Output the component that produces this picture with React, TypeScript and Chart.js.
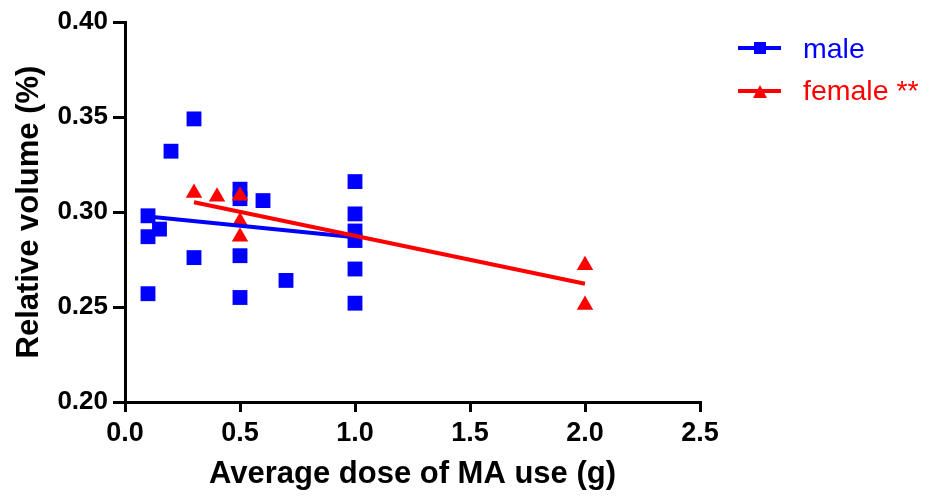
import React, { useEffect, useRef } from "react";
import { Chart, registerables } from "chart.js";

Chart.register(...registerables);

// ---- data ----
const maleX = [0.1, 0.1, 0.1, 0.15, 0.2, 0.3, 0.3, 0.5, 0.5, 0.5, 0.5, 0.6, 0.7, 1.0, 1.0, 1.0, 1.0, 1.0, 1.0];
const maleY = [0.298, 0.287, 0.257, 0.291, 0.332, 0.349, 0.276, 0.312, 0.307, 0.277, 0.255, 0.306, 0.264, 0.316, 0.299, 0.290, 0.285, 0.270, 0.252];
const femaleX = [0.3, 0.4, 0.5, 0.5, 0.5, 2.0, 2.0];
const femaleY = [0.310, 0.308, 0.3085, 0.295, 0.287, 0.272, 0.251];
const maleFitX = [0.1, 1.0];
const maleFitY = [0.2976, 0.2867];
const femaleFitX = [0.3, 2.0];
const femaleFitY = [0.3051, 0.2622];
const xTicks = [0, 0.5, 1.0, 1.5, 2.0, 2.5];
const yTicks = [0.2, 0.25, 0.3, 0.35, 0.4];
const seriesLabels = ["male", "female **"];
const xTitle = "Average dose of MA use (g)";
const yTitle = "Relative volume (%)";

const BLUE = "#0000ff";
const RED = "#ff0000";
const FONT = "'Liberation Sans', Arial, Helvetica, sans-serif";

const toPoints = (xs: number[], ys: number[]) => xs.map((x, i) => ({ x, y: ys[i] }));

const legendPlugin = {
  id: "prismLegend",
  afterDraw(chart: any) {
    const ctx = chart.ctx as CanvasRenderingContext2D;
    const rows = [
      { label: seriesLabels[0], color: BLUE, shape: "rect", y: 48, base: 58 },
      { label: seriesLabels[1], color: RED, shape: "tri", y: 91, base: 100 },
    ];
    ctx.save();
    rows.forEach((r) => {
      ctx.strokeStyle = r.color;
      ctx.fillStyle = r.color;
      ctx.lineWidth = 4;
      ctx.beginPath();
      ctx.moveTo(738, r.y);
      ctx.lineTo(781, r.y);
      ctx.stroke();
      if (r.shape === "rect") {
        ctx.fillRect(754, r.y - 6, 12, 12);
      } else {
        ctx.beginPath();
        ctx.moveTo(760, r.y - 6);
        ctx.lineTo(767, r.y + 7);
        ctx.lineTo(753, r.y + 7);
        ctx.closePath();
        ctx.fill();
      }
      ctx.font = `28.5px ${FONT}`;
      ctx.textBaseline = "alphabetic";
      ctx.textAlign = "left";
      ctx.fillText(r.label, 803, r.base);
    });
    ctx.restore();
  },
};

export default function App() {
  const ref = useRef<HTMLCanvasElement>(null);
  useEffect(() => {
    document.body.style.margin = "0";
    const canvas = ref.current;
    if (!canvas) return;
    const chart = new Chart(canvas, {
      type: "scatter",
      data: {
        datasets: [
          {
            label: seriesLabels[1] + " fit",
            data: toPoints(femaleFitX, femaleFitY),
            showLine: true,
            borderColor: RED,
            borderWidth: 4,
            pointRadius: 0,
            order: 0,
          },
          {
            label: seriesLabels[0] + " fit",
            data: toPoints(maleFitX, maleFitY),
            showLine: true,
            borderColor: BLUE,
            borderWidth: 4,
            pointRadius: 0,
            order: 1,
          },
          {
            label: seriesLabels[1],
            data: toPoints(femaleX, femaleY),
            pointStyle: "triangle",
            pointRadius: 9.5,
            backgroundColor: RED,
            borderColor: RED,
            borderWidth: 0,
            order: 2,
          },
          {
            label: seriesLabels[0],
            data: toPoints(maleX, maleY),
            pointStyle: "rect",
            pointRadius: 10.5,
            backgroundColor: BLUE,
            borderColor: BLUE,
            borderWidth: 0,
            order: 3,
          },
        ],
      },
      options: {
        responsive: false,
        animation: false,
        layout: { padding: { left: 0, right: 234, top: 22, bottom: 0 } },
        plugins: { legend: { display: false }, tooltip: { enabled: false } },
        scales: {
          x: {
            type: "linear",
            min: 0,
            max: 2.5,
            afterBuildTicks: (s: any) => {
              s.ticks = xTicks.map((v) => ({ value: v }));
            },
            afterFit: (s: any) => {
              s.height = 94;
            },
            border: { display: true, color: "#000", width: 3 },
            grid: { display: true, drawOnChartArea: false, drawTicks: true, tickLength: 10, color: "#000", lineWidth: 3 },
            ticks: {
              color: "#000",
              padding: 5,
              maxRotation: 0,
              font: { family: FONT, size: 27, weight: "bold" },
              callback: (v: any) => Number(v).toFixed(1),
            },
            title: {
              display: true,
              text: xTitle,
              color: "#000",
              font: { family: FONT, size: 31, weight: "bold" },
              padding: { top: 0, bottom: 3 },
            },
          },
          y: {
            type: "linear",
            min: 0.2,
            max: 0.4,
            afterBuildTicks: (s: any) => {
              s.ticks = yTicks.map((v) => ({ value: v }));
            },
            afterFit: (s: any) => {
              s.width = 125;
            },
            border: { display: true, color: "#000", width: 3 },
            grid: { display: true, drawOnChartArea: false, drawTicks: true, tickLength: 12, color: "#000", lineWidth: 3 },
            ticks: {
              color: "#000",
              padding: 5,
              font: { family: FONT, size: 26, weight: "bold" },
              callback: (v: any) => Number(v).toFixed(2),
            },
            title: {
              display: true,
              text: yTitle,
              color: "#000",
              font: { family: FONT, size: 31, weight: "bold" },
              padding: { top: 11, bottom: 0 },
            },
          },
        },
      },
      plugins: [legendPlugin],
    } as any);
    return () => chart.destroy();
  }, []);
  return <canvas ref={ref} width={934} height={496} style={{ display: "block" }} />;
}
